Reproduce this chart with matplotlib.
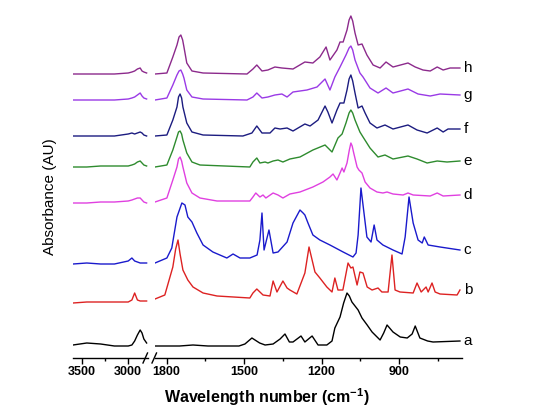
import matplotlib.pyplot as plt
from matplotlib.lines import Line2D

plt.rcParams['font.family'] = ['Liberation Sans', 'DejaVu Sans']
plt.rcParams['mathtext.fontset'] = 'custom'
plt.rcParams['mathtext.bf'] = 'Liberation Sans:bold'
plt.rcParams['mathtext.rm'] = 'Liberation Sans'

names = ['a', 'b', 'c', 'd', 'e', 'f', 'g', 'h']
colors = ['#000000', '#dd2222', '#1a1acc', '#e040e0', '#2e8b2e', '#1c1c80', '#9a3ae6', '#8c2a8c']
offsets = [0.0, 0.43, 0.82, 1.43, 1.79, 2.10, 2.46, 2.72]

# C-H region (left panel), same grid for all samples
ch_wn = [3600, 3450, 3300, 3150, 3000, 2960, 2930, 2900, 2870, 2850, 2830, 2800]
ch_a = [0.01, 0.03, 0.02, 0.0, 0.0, 0.01, 0.05, 0.11, 0.16, 0.13, 0.07, 0.03]
ch_b = [0.0, 0.01, 0.01, 0.01, 0.01, 0.03, 0.10, 0.03, 0.02, 0.02, 0.02, 0.02]
ch_c = [0.0, 0.01, 0.0, 0.0, 0.03, 0.06, 0.03, 0.02, 0.01, 0.01, 0.01, 0.01]
ch_d = [0.0, 0.0, 0.01, 0.01, 0.02, 0.03, 0.04, 0.05, 0.05, 0.03, 0.01, 0.0]
ch_e = [0.0, 0.0, 0.01, 0.01, 0.01, 0.02, 0.03, 0.05, 0.06, 0.04, 0.02, 0.01]
ch_f = [0.0, 0.0, 0.0, 0.0, 0.02, 0.03, 0.02, 0.03, 0.04, 0.03, 0.01, 0.0]
ch_g = [0.0, 0.0, 0.0, 0.0, 0.01, 0.02, 0.03, 0.05, 0.07, 0.04, 0.02, 0.01]
ch_h = [0.0, 0.0, 0.0, 0.0, 0.01, 0.02, 0.03, 0.05, 0.06, 0.03, 0.02, 0.01]

# fingerprint region (right panel)
fp_wn_a = [1845, 1750, 1698, 1640, 1520, 1497, 1470, 1440, 1419, 1388, 1361, 1342, 1325, 1311,
           1280, 1265, 1237, 1214, 1180, 1160, 1149, 1129, 1115, 1102, 1093, 1083, 1059, 1044,
           1024, 1005, 974, 960, 947, 924, 896, 869, 850, 838, 820, 790, 769, 665]
fp_a = [0.0, 0.0, 0.01, 0.0, 0.0, 0.02, 0.08, 0.03, 0.01, 0.02, 0.07, 0.12, 0.04, 0.04,
        0.10, 0.04, 0.10, 0.01, 0.01, 0.05, 0.18, 0.29, 0.43, 0.53, 0.50, 0.44, 0.36, 0.28,
        0.21, 0.14, 0.06, 0.13, 0.21, 0.14, 0.09, 0.08, 0.12, 0.20, 0.08, 0.05, 0.04, 0.05]

fp_wn_b = [1845, 1807, 1776, 1765, 1756, 1748, 1737, 1718, 1698, 1659, 1605, 1478, 1466, 1451,
           1427, 1400, 1388, 1373, 1350, 1334, 1323, 1296, 1265, 1249, 1226, 1207, 1180, 1160,
           1149, 1137, 1118, 1098, 1087, 1079, 1063, 1052, 1040, 1024, 1005, 982, 967, 943, 928,
           916, 897, 846, 831, 815, 796, 788, 773, 761, 742, 676, 665]
fp_b = [0.04, 0.08, 0.36, 0.54, 0.63, 0.49, 0.33, 0.23, 0.16, 0.10, 0.07, 0.05, 0.10, 0.14,
        0.08, 0.07, 0.22, 0.11, 0.22, 0.15, 0.13, 0.09, 0.30, 0.56, 0.31, 0.25, 0.16, 0.11,
        0.25, 0.13, 0.13, 0.40, 0.35, 0.36, 0.18, 0.31, 0.30, 0.16, 0.13, 0.15, 0.11, 0.11, 0.48,
        0.13, 0.11, 0.10, 0.20, 0.11, 0.16, 0.11, 0.20, 0.11, 0.09, 0.08, 0.13]

fp_wn_c = [1845, 1799, 1780, 1760, 1741, 1729, 1718, 1702, 1683, 1659, 1621, 1567, 1543, 1516,
           1478, 1450, 1439, 1431, 1423, 1404, 1388, 1369, 1334, 1311, 1284, 1272, 1265, 1253,
           1234, 1207, 1168, 1117, 1079, 1067, 1059, 1048, 1025, 1009, 997, 986, 963, 924, 889,
           877, 862, 846, 827, 811, 803, 788, 742, 665]
fp_c = [0.01, 0.06, 0.16, 0.47, 0.61, 0.59, 0.47, 0.42, 0.31, 0.19, 0.12, 0.06, 0.10, 0.06,
        0.06, 0.09, 0.24, 0.51, 0.14, 0.34, 0.11, 0.12, 0.22, 0.41, 0.54, 0.51, 0.49, 0.41,
        0.29, 0.24, 0.19, 0.12, 0.07, 0.11, 0.29, 0.76, 0.27, 0.22, 0.39, 0.24, 0.19, 0.14, 0.10,
        0.27, 0.67, 0.41, 0.24, 0.21, 0.27, 0.19, 0.17, 0.14]

fp_wn_d = [1845, 1799, 1776, 1760, 1754, 1748, 1742, 1737, 1722, 1702, 1671, 1605, 1478, 1466,
           1455, 1439, 1427, 1416, 1388, 1369, 1350, 1323, 1284, 1234, 1195, 1168, 1156, 1141,
           1129, 1121, 1114, 1102, 1093, 1087, 1082, 1076, 1063, 1056, 1044, 1032, 1013, 986, 963,
           947, 924, 885, 866, 846, 780, 753, 730, 665]
fp_d = [0.01, 0.05, 0.23, 0.36, 0.44, 0.46, 0.42, 0.36, 0.20, 0.10, 0.05, 0.02, 0.02, 0.06,
        0.10, 0.06, 0.08, 0.05, 0.10, 0.08, 0.05, 0.09, 0.11, 0.16, 0.21, 0.26, 0.29, 0.23,
        0.30, 0.35, 0.31, 0.40, 0.53, 0.60, 0.57, 0.50, 0.36, 0.33, 0.30, 0.21, 0.15, 0.11, 0.10,
        0.11, 0.09, 0.08, 0.10, 0.08, 0.07, 0.10, 0.07, 0.08]

fp_wn_e = [1845, 1799, 1776, 1760, 1754, 1748, 1742, 1737, 1722, 1702, 1671, 1478, 1466, 1451,
           1439, 1419, 1408, 1388, 1369, 1350, 1323, 1284, 1234, 1187, 1160, 1137, 1121, 1106,
           1094, 1087, 1080, 1071, 1052, 1040, 1013, 982, 955, 924, 866, 831, 792, 753, 715, 665]
fp_e = [0.0, 0.02, 0.17, 0.30, 0.35, 0.36, 0.33, 0.27, 0.14, 0.05, 0.02, 0.0, 0.05, 0.09,
        0.04, 0.05, 0.04, 0.06, 0.07, 0.05, 0.08, 0.10, 0.17, 0.22, 0.15, 0.29, 0.33, 0.44,
        0.54, 0.57, 0.54, 0.47, 0.35, 0.30, 0.19, 0.10, 0.12, 0.08, 0.11, 0.08, 0.04, 0.06, 0.05, 0.06]

fp_wn_f = [1845, 1799, 1776, 1760, 1754, 1748, 1742, 1737, 1722, 1702, 1659, 1505, 1470, 1451,
           1431, 1400, 1381, 1361, 1334, 1311, 1265, 1245, 1214, 1187, 1176, 1160, 1141, 1129,
           1114, 1102, 1094, 1087, 1080, 1071, 1059, 1044, 1032, 1013, 986, 955, 924, 866, 831,
           792, 753, 730, 711, 665]
fp_f = [0.0, 0.01, 0.16, 0.29, 0.39, 0.42, 0.38, 0.29, 0.13, 0.04, 0.01, 0.0, 0.03, 0.10,
        0.03, 0.03, 0.08, 0.07, 0.08, 0.05, 0.12, 0.10, 0.16, 0.30, 0.24, 0.13, 0.26, 0.33,
        0.33, 0.46, 0.57, 0.61, 0.55, 0.43, 0.28, 0.30, 0.23, 0.13, 0.08, 0.11, 0.07, 0.11, 0.06,
        0.03, 0.08, 0.04, 0.07, 0.07]

fp_wn_g = [1845, 1799, 1776, 1760, 1752, 1745, 1738, 1733, 1722, 1702, 1659, 1489, 1466, 1451,
           1431, 1408, 1381, 1354, 1334, 1311, 1257, 1218, 1187, 1168, 1149, 1129, 1106, 1094,
           1087, 1080, 1071, 1052, 1040, 1013, 982, 951, 924, 866, 827, 780, 742, 665]
fp_g = [0.0, 0.02, 0.15, 0.25, 0.29, 0.30, 0.26, 0.22, 0.10, 0.03, 0.01, 0.0, 0.03, 0.07,
        0.02, 0.03, 0.05, 0.06, 0.03, 0.08, 0.10, 0.13, 0.21, 0.10, 0.23, 0.33, 0.45, 0.52,
        0.54, 0.50, 0.40, 0.27, 0.23, 0.12, 0.07, 0.12, 0.07, 0.11, 0.06, 0.04, 0.06, 0.05]

fp_wn_h = [1845, 1799, 1776, 1760, 1752, 1745, 1738, 1733, 1722, 1702, 1659, 1489, 1466, 1451,
           1431, 1408, 1381, 1354, 1311, 1265, 1234, 1207, 1183, 1168, 1141, 1129, 1117, 1102,
           1094, 1087, 1080, 1071, 1059, 1044, 1025, 1001, 974, 951, 924, 866, 838, 808, 780, 753,
           730, 703, 665]
fp_h = [0.0, 0.01, 0.17, 0.29, 0.37, 0.39, 0.34, 0.27, 0.11, 0.03, 0.01, 0.0, 0.05, 0.09,
        0.03, 0.04, 0.07, 0.06, 0.05, 0.12, 0.11, 0.17, 0.27, 0.14, 0.24, 0.32, 0.32, 0.44,
        0.54, 0.58, 0.53, 0.41, 0.29, 0.30, 0.19, 0.09, 0.06, 0.12, 0.07, 0.11, 0.07, 0.04, 0.03,
        0.07, 0.04, 0.06, 0.06]

ch_all = [ch_a, ch_b, ch_c, ch_d, ch_e, ch_f, ch_g, ch_h]
fp_wn_all = [fp_wn_a, fp_wn_b, fp_wn_c, fp_wn_d, fp_wn_e, fp_wn_f, fp_wn_g, fp_wn_h]
fp_all = [fp_a, fp_b, fp_c, fp_d, fp_e, fp_f, fp_g, fp_h]

W, H = 544, 408
fig = plt.figure(figsize=(W / 100, H / 100), dpi=100)
bot = (H - 358) / H
hgt = (358 - 10) / H
axl = fig.add_axes([73 / W, bot, (148 - 73) / W, hgt])
axr = fig.add_axes([155 / W, bot, (462 - 155) / W, hgt])

for i in range(len(names)):
    axl.plot(ch_wn, [v + offsets[i] for v in ch_all[i]], color=colors[i], lw=1.0)
    axr.plot(fp_wn_all[i], [v + offsets[i] for v in fp_all[i]], color=colors[i], lw=1.0)
    axr.text(650, offsets[i] + fp_all[i][-1], names[i], fontsize=11, va='center', ha='left',
             clip_on=False)

axl.set_xlim(3600, 2785)
axr.set_xlim(1845, 657)
axl.set_xticks([3500, 3000])
axl.set_xticks([3250], minor=True)
axr.set_xticks([1800, 1500, 1200, 900])
axr.set_xticks([1650, 1350, 1050, 750], minor=True)
for ax in (axl, axr):
    ax.set_ylim(-0.12, 3.36)
    for s in ('top', 'left', 'right'):
        ax.spines[s].set_visible(False)
    ax.spines['bottom'].set_linewidth(1.0)
    ax.set_yticks([])
    ax.tick_params(axis='x', which='major', length=4, width=1, pad=1.5, labelsize=9)
    ax.tick_params(axis='x', which='minor', length=2.5, width=1)
    for lab in ax.get_xticklabels():
        lab.set_fontweight('bold')

# axis break marks
for x0 in (143, 152):
    fig.add_artist(Line2D([x0 / W, (x0 + 4.5) / W], [(H - 363) / H, (H - 353) / H],
                          color='black', lw=1.0, transform=fig.transFigure))

fig.text(267 / W, (H - 397) / H, r'Wavelength number (cm$\mathbf{^{-1}}$)', ha='center',
         va='center', fontsize=11.5, fontweight='bold')
fig.text(50 / W, (H - 197) / H, 'Absorbance (AU)', rotation=90, ha='center', va='center',
         fontsize=11)

fig.savefig('out.png', dpi=100)
